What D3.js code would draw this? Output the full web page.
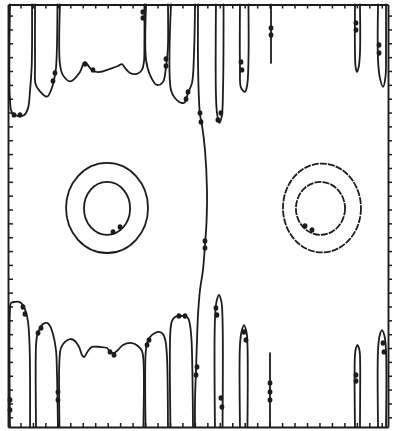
<!DOCTYPE html>
<html>
<head>
<meta charset="utf-8">
<script src="https://cdn.jsdelivr.net/npm/d3@7"></script>
<style>
  html, body { margin: 0; padding: 0; background: #fff; overflow: hidden; }
</style>
</head>
<body>
<svg id="chart" width="393" height="431"></svg>
<script>
// Grid extent (cell units) and tick positions
const xDomain = [0, 30.5];
const yDomain = [0, 30.5];
const xTicks = d3.range(1, 31);
const yTicks = d3.range(0.7, 30.5, 1);

// Contour lines that hang down from the upper boundary
const topContours = [
  [[0.16,30.5],[0.16,23.6],[0.32,22.7],[0.8,22.45],[1.28,22.5],[1.6,23.0],[1.77,24.3],[1.9,26.0],[1.93,30.5]],
  [[2.17,30.5],[2.17,26.0],[2.2,24.8],[2.5,24.3],[3.13,23.85],[3.45,24.3],[3.68,25.0],[3.85,25.9],[3.93,27.5],[3.97,30.5]],
  [[4.17,30.5],[4.17,26.2],[4.41,25.4],[4.98,24.95],[5.78,25.63],[6.1,26.3],[6.26,26.28],[6.58,25.92],[6.82,25.7],[7.38,25.63],[8.19,25.85],[8.83,26.06],[9.15,26.2],[9.39,25.92],[9.79,25.56],[10.35,25.49],[10.75,25.78],[10.91,26.35],[10.95,27.8],[10.95,30.5]],
  [[11.08,30.5],[11.08,26.5],[11.4,25.41],[11.96,24.69],[12.44,24.91],[12.68,25.99],[12.76,26.5],[12.84,27.5],[12.84,30.5]],
  [[13.08,30.5],[13.08,24.33],[13.4,23.75],[13.96,23.39],[14.21,23.46],[14.45,24.12],[14.77,24.84],[14.93,27.0],[15.01,30.5]],
  [[16.69,30.5],[16.69,24.0],[16.77,22.7],[16.95,21.95],[17.15,22.4],[17.26,24.5],[17.3,30.5]],
  [[18.62,30.5],[18.62,26.0],[18.7,24.5],[19.02,24.19],[19.2,24.7],[19.3,26.5],[19.3,30.5]],
  [[21.11,30.5],[21.11,26.28]],
  [[27.85,30.5],[27.85,27.0],[27.9,26.0],[28.01,25.63],[28.15,26.0],[28.25,27.0],[28.25,30.5]],
  [[29.7,30.5],[29.7,26.5],[29.85,25.2],[30.1,24.55],[30.3,25.3],[30.34,27.0],[30.34,30.5]]
];

// The zero line crossing the whole domain
const midContour = [
  [15.25,30.5],[15.25,26.5],[15.33,23.61],[15.41,22.53],[15.57,21.8],[15.81,20.0],[15.97,17.11],
  [15.93,14.73],[15.81,13.14],[15.65,11.34],[15.41,9.89],[15.25,8.09],[15.17,6.28],[15.09,4.12],
  [15.01,1.95],[15.01,0]
];

// Contour lines rising from the lower boundary
const bottomContours = [
  [[0.16,0],[0.16,8.45],[0.24,8.95],[0.56,9.03],[0.88,9.03],[1.2,8.81],[1.44,8.3],[1.61,7.58],[1.73,5.92],[1.77,3.39],[1.77,0]],
  [[2.25,0],[2.25,5.92],[2.33,6.57],[2.49,7.0],[2.81,7.44],[3.13,7.51],[3.37,7.29],[3.61,6.71],[3.85,5.56],[3.93,3.9],[4.01,0]],
  [[4.13,0],[4.13,4.84],[4.25,5.7],[4.57,6.14],[4.98,6.35],[5.38,6.21],[5.7,5.78],[5.94,5.2],[6.1,5.05],[6.42,5.49],[6.74,5.78],[7.38,5.78],[7.95,5.7],[8.19,5.42],[8.51,5.34],[8.83,5.56],[9.23,5.92],[9.95,6.06],[10.43,5.85],[10.75,5.49],[10.87,4.84],[10.87,0]],
  [[11.04,0],[11.04,5.2],[11.16,6.06],[11.4,6.5],[11.8,6.79],[12.12,6.86],[12.44,6.71],[12.64,6.21],[12.76,5.05],[12.84,0]],
  [[13.04,0],[13.04,7.0],[13.16,7.65],[13.4,7.94],[13.8,8.01],[14.21,8.01],[14.45,7.87],[14.61,7.36],[14.73,6.28],[14.81,3.39],[14.85,0]],
  [[16.61,0],[16.61,7.73],[16.73,9.03],[16.93,9.53],[17.13,9.03],[17.22,7.73],[17.22,0]],
  [[18.62,0],[18.62,5.92],[18.74,6.86],[18.94,7.36],[19.14,6.86],[19.22,5.92],[19.22,0]],
  [[21.03,0],[21.03,5.34]],
  [[27.85,0],[27.85,5.2],[27.93,5.7],[28.05,5.92],[28.17,5.7],[28.25,5.2],[28.25,0]],
  [[29.7,0],[29.7,5.56],[29.82,6.57],[30.02,7.0],[30.22,6.57],[30.34,5.56],[30.34,0]]
];

// Closed rings around the two centres: [cx, cy, rx, ry]
const leftRings = [[7.95,15.81,3.29,3.25],[7.95,15.78,1.85,1.91]];
const rightRings = [[25.2,15.81,3.13,3.21],[25.08,15.78,1.97,1.91]];

// Contour level markers placed along the lines
const labelMarks = [
  [10.83,29.96],[10.83,29.53],[6.18,26.21],[6.82,25.78],[3.77,25.56],[3.61,24.98],
  [12.68,26.57],[12.68,26.06],[14.45,24.19],[14.29,23.68],[15.41,22.67],[15.49,22.02],
  [16.85,22.17],[17.09,22.67],[18.7,26.35],[18.78,25.78],[21.11,28.81],[21.11,28.3],
  [27.93,29.17],[27.93,28.66],[29.78,27.58],[29.78,27.0],[0.48,22.53],[0.96,22.53],
  [15.81,13.43],[15.81,12.92],[8.99,14.44],[8.43,14.08],[23.84,14.51],[24.4,14.22],
  [1.2,8.66],[1.36,8.16],[0.16,1.95],[0.16,1.23],[2.41,6.79],[2.65,7.15],[4.01,2.53],[4.01,1.95],
  [8.19,5.42],[8.51,5.2],[11.16,5.92],[11.32,6.28],[13.72,8.01],[14.21,8.01],
  [15.17,4.33],[15.09,3.75],[16.69,8.59],[16.77,8.09],[17.09,2.09],[17.17,1.44],
  [18.94,6.86],[19.1,6.28],[21.03,3.18],[21.03,2.53],[21.03,1.95],
  [27.93,3.75],[27.93,3.32],[30.1,6.06],[30.18,5.42]
];

const svg = d3.select("#chart");
const ink = "#1c1c1c";

const x = d3.scaleLinear().domain(xDomain).range([8, 388]);
const y = d3.scaleLinear().domain(yDomain).range([427, 4.5]);

const line = d3.line()
  .x(d => x(d[0]))
  .y(d => y(d[1]))
  .curve(d3.curveCatmullRom.alpha(0.5));

const plot = svg.append("g")
  .attr("fill", "none")
  .attr("stroke", ink)
  .attr("stroke-width", 1.8)
  .attr("stroke-linejoin", "round")
  .attr("stroke-linecap", "round");

plot.selectAll("path.top").data(topContours).join("path")
  .attr("class", "top").attr("d", line);
plot.selectAll("path.bottom").data(bottomContours).join("path")
  .attr("class", "bottom").attr("d", line);
plot.append("path").datum(midContour).attr("d", line);

plot.selectAll("ellipse.left").data(leftRings).join("ellipse")
  .attr("class", "left")
  .attr("cx", d => x(d[0])).attr("cy", d => y(d[1]))
  .attr("rx", d => x(d[2]) - x(0)).attr("ry", d => y(0) - y(d[3]));

// Right-hand rings are drawn with a broken stroke
plot.selectAll("ellipse.right").data(rightRings).join("ellipse")
  .attr("class", "right")
  .attr("cx", d => x(d[0])).attr("cy", d => y(d[1]))
  .attr("rx", d => x(d[2]) - x(0)).attr("ry", d => y(0) - y(d[3]))
  .attr("stroke-linecap", "butt")
  .attr("stroke-dasharray", "7,1.1");

svg.append("g").attr("fill", ink)
  .selectAll("ellipse").data(labelMarks).join("ellipse")
  .attr("cx", d => x(d[0])).attr("cy", d => y(d[1]))
  .attr("rx", 2.4).attr("ry", 2.7);

// Frame with inward ticks (outward on the right side)
const frameStyle = g => {
  g.select(".domain").attr("stroke", ink).attr("stroke-width", 1.9);
  g.selectAll(".tick line").attr("stroke", ink).attr("stroke-width", 1.5);
  g.selectAll("text").remove();
};
svg.append("g").attr("transform", `translate(0,${y(0)})`)
  .call(d3.axisBottom(x).tickValues(xTicks).tickSize(-4).tickSizeOuter(0).tickFormat(""))
  .call(frameStyle);
svg.append("g").attr("transform", `translate(0,${y(30.5)})`)
  .call(d3.axisTop(x).tickValues(xTicks).tickSize(-4).tickSizeOuter(0).tickFormat(""))
  .call(frameStyle);
svg.append("g").attr("transform", `translate(${x(0)},0)`)
  .call(d3.axisLeft(y).tickValues(yTicks).tickSize(-5).tickSizeOuter(0).tickFormat(""))
  .call(frameStyle);
svg.append("g").attr("transform", `translate(${x(30.5)},0)`)
  .call(d3.axisRight(y).tickValues(yTicks).tickSize(4).tickSizeOuter(0).tickFormat(""))
  .call(frameStyle);
</script>
</body>
</html>
